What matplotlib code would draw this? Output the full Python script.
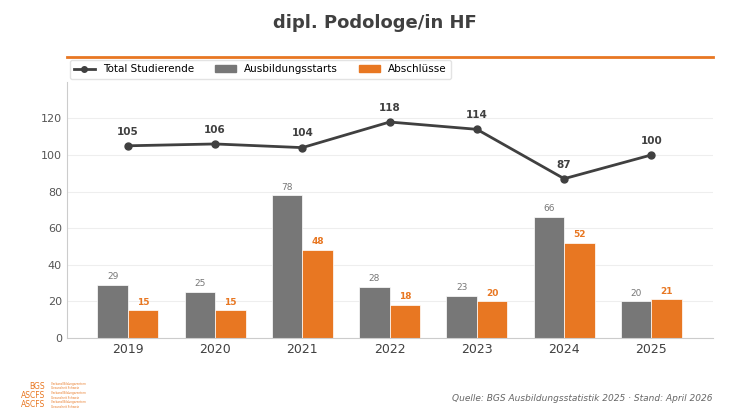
import numpy as np
import matplotlib.pyplot as plt
from matplotlib.lines import Line2D

years = ["2019", "2020", "2021", "2022", "2023", "2024", "2025"]
total = [105, 106, 104, 118, 114, 87, 100]
starts = [29, 25, 78, 28, 23, 66, 20]
abschl = [15, 15, 48, 18, 20, 52, 21]

grey = "#777777"
orange = "#E87722"
dark = "#404040"

fig = plt.figure(figsize=(7.5, 4.13), dpi=100)
ax = fig.add_axes([0.089, 0.182, 0.861, 0.62])
x = np.arange(len(years))
w = 0.35
ax.bar(x - w / 2, starts, w, color=grey, edgecolor="white", linewidth=0.5)
ax.bar(x + w / 2, abschl, w, color=orange, edgecolor="white", linewidth=0.5)
ax.plot(x, total, color=dark, lw=2, marker="o", ms=5)

for i in range(len(years)):
    ax.text(x[i] - w / 2, starts[i] + 2, str(starts[i]), ha="center", va="bottom", fontsize=6.5, color=grey)
    ax.text(x[i] + w / 2, abschl[i] + 2, str(abschl[i]), ha="center", va="bottom", fontsize=6.5, color=orange, fontweight="bold")
    ax.text(x[i], total[i] + 5, str(total[i]), ha="center", va="bottom", fontsize=7.5, color=dark, fontweight="bold")

ax.set_ylim(0, 140)
ax.set_xlim(-0.7, 6.7)
ax.set_yticks(range(0, 121, 20))
ax.set_xticks(x)
ax.set_xticklabels(years, fontsize=9, color=dark)
ax.tick_params(axis="y", labelsize=8, colors="#555555", length=0)
ax.tick_params(axis="x", length=0)
ax.yaxis.grid(True, color="#eeeeee", lw=0.8)
ax.set_axisbelow(True)
for s in ["top", "right"]:
    ax.spines[s].set_visible(False)
ax.spines["left"].set_color("#cccccc")
ax.spines["bottom"].set_color("#cccccc")

handles = [
    Line2D([0], [0], color=dark, lw=2, marker="o", ms=4),
    plt.Rectangle((0, 0), 1, 1, color=grey),
    plt.Rectangle((0, 0), 1, 1, color=orange),
]
ax.legend(handles, ["Total Studierende", "Ausbildungsstarts", "Abschlüsse"], ncol=3,
          loc="lower left", bbox_to_anchor=(0.0, 1.0), fontsize=7.5, frameon=True,
          edgecolor="#dddddd", borderaxespad=0.3, handlelength=2)

fig.text(0.5, 0.945, "dipl. Podologe/in HF", ha="center", va="center", fontsize=13,
         fontweight="bold", color=dark)
fig.add_artist(Line2D([0.089, 0.95], [0.862, 0.862], color=orange, lw=2))
fig.text(0.95, 0.035, "Quelle: BGS Ausbildungsstatistik 2025 · Stand: April 2026", ha="right",
         va="center", fontsize=6.5, style="italic", color="#666666")
for yy, t in [(0.065, "BGS"), (0.043, "ASCFS"), (0.021, "ASCFS")]:
    fig.text(0.06, yy, t, ha="right", va="center", fontsize=5.5, color=orange)
    fig.text(0.068, yy, "Verband Bildungszentren\nGesundheit Schweiz", va="center", fontsize=2, color=orange)

fig.savefig("out.png", dpi=100)
